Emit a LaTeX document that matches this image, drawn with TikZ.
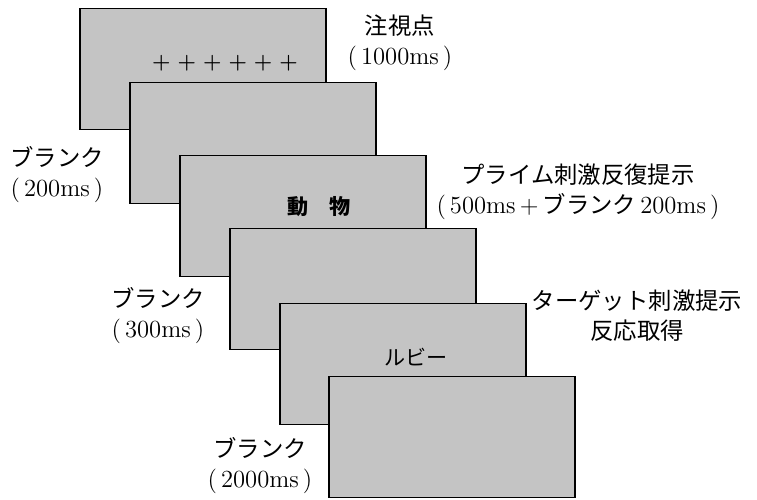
\documentclass[tikz,border=0pt]{standalone}
\usepackage{fontspec}
\newfontfamily\jp{Noto Sans CJK JP}
\usetikzlibrary{positioning}

\begin{document}
\begin{tikzpicture}[x=0.2mm, y=-0.2mm,
  screen/.style={draw,line width=1.1pt,fill=black!23,minimum width=49.2mm,minimum height=24.2mm,inner sep=0pt},
  lbl/.style={align=center,font=\fontsize{13.3}{17}\selectfont},
  stim/.style={font=\fontsize{12}{14}\selectfont}]
\useasboundingbox (0,0) rectangle (757,500);
% stacked screens, front one last
\node[screen] (s1) at (203,69) {};
\node[screen] (s2) at (253,143) {};
\node[screen] (s3) at (303,216) {};
\node[screen] (s4) at (353,289) {};
\node[screen] (s5) at (403,364) {};
\node[screen] (s6) at (452,437) {};
% what is shown on the screens
\node[stim] (fix) at (225,63) {\bfseries +\hspace{4pt}+\hspace{4pt}+\hspace{4pt}+\hspace{4pt}+\hspace{4pt}+};
\node[stim] (prime) at (319,207) {\jp\bfseries 動\hspace{1em}物};
\node[stim] (target) at (416,357) {\jp ルビー};
% timing labels
\node[lbl] (l1) at (400,43) {{\jp 注視点}\\{\fontsize{14}{17}\selectfont(\,1000ms\,)}};
\node[lbl] (l2) at (57,175) {{\jp ブランク}\\{\fontsize{14}{17}\selectfont(\,200ms\,)}};
\node[lbl] (l3) at (578,192) {{\jp プライム刺激反復提示}\\{\fontsize{14}{17}\selectfont(\,500ms\,+\,{\jp\fontsize{13.3}{17}\selectfont ブランク}\,200ms\,)}};
\node[lbl] (l4) at (158,316) {{\jp ブランク}\\{\fontsize{14}{17}\selectfont(\,300ms\,)}};
\node[lbl] (l5) at (637,316) {{\jp ターゲット刺激提示}\\{\jp 反応取得}};
\node[lbl] (l6) at (260,466) {{\jp ブランク}\\{\fontsize{14}{17}\selectfont(\,2000ms\,)}};
\end{tikzpicture}
\end{document}
